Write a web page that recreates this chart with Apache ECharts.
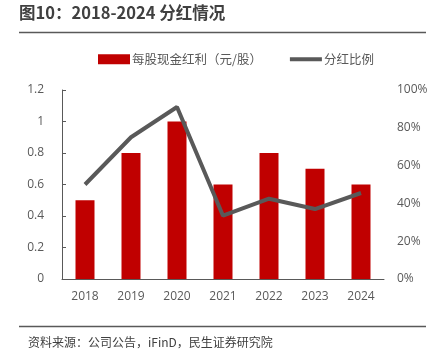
<!DOCTYPE html>
<html><head><meta charset="utf-8">
<script src="https://cdn.jsdelivr.net/npm/echarts@6/dist/echarts.min.js"></script>
<style>html,body{margin:0;padding:0;background:#fff}#c{width:438px;height:361px}</style>
</head><body><div id="c"></div>
<script>
const categories = ['2018','2019','2020','2021','2022','2023','2024'];
const dividendPerShare = [0.5, 0.8, 1.0, 0.6, 0.8, 0.7, 0.6];
const payoutRatio = [50, 75, 91, 33.5, 42.5, 37, 45.5];
const leftTicks = ['0','0.2','0.4','0.6','0.8','1','1.2'];
const rightTicks = ['0%','20%','40%','60%','80%','100%'];
const seriesNames = ['每股现金红利（元/股）','分红比例'];
const titleText = '图10：2018-2024 分红情况';
const sourceText = '资料来源：公司公告，iFinD，民生证券研究院';

const FF = '"Open Sans","Noto Sans CJK SC",sans-serif';
const chart = echarts.init(document.getElementById('c'));
chart.setOption({
  animation:false,
  textStyle:{fontFamily:FF},
  graphic:[
    {type:'text',left:19,top:4,style:{text:titleText,font:'bold 16.5px "Noto Sans CJK SC",sans-serif',fill:'#404040'}},
    {type:'line',shape:{x1:19,y1:32.5,x2:426,y2:32.5},style:{stroke:'#595959',lineWidth:1.5}},
    {type:'line',shape:{x1:19,y1:326.5,x2:426,y2:326.5},style:{stroke:'#595959',lineWidth:1.5}},
    {type:'text',left:28,top:336,style:{text:sourceText,font:'12px "Noto Sans CJK SC",sans-serif',fill:'#404040'}}
  ],
  legend:{
    top:48,left:93,itemGap:28,itemWidth:32,itemHeight:10,
    textStyle:{fontSize:12.5,color:'#595959',fontFamily:'"Noto Sans CJK SC",sans-serif',padding:[0,0,0,-3]},
    data:[{name:seriesNames[0],icon:'rect'},{name:seriesNames[1],icon:'path://M0,0 L40,0 L40,5 L0,5 Z',itemStyle:{color:'#595959'}}]
  },
  grid:{left:62,right:54,top:90,bottom:82},
  xAxis:{type:'category',data:categories,
    axisLine:{lineStyle:{color:'#595959',width:1}},axisTick:{show:false},
    axisLabel:{color:'#595959',fontSize:12,margin:12}},
  yAxis:[
    {type:'value',min:0,max:1.2,interval:0.2,
     axisLine:{show:true,lineStyle:{color:'#595959'}},
     axisTick:{show:true,inside:true,length:4,lineStyle:{color:'#595959'}},
     splitLine:{show:false},
     axisLabel:{color:'#595959',fontSize:12,margin:18,formatter:(v)=>leftTicks[Math.round(v/0.2)]}},
    {type:'value',min:0,max:100,interval:20,
     axisLine:{show:false},axisTick:{show:false},splitLine:{show:false},
     axisLabel:{color:'#595959',fontSize:12,margin:13,formatter:(v)=>rightTicks[Math.round(v/20)]}}
  ],
  series:[
    {name:seriesNames[0],type:'bar',data:dividendPerShare,barWidth:19,itemStyle:{color:'#C00000'}},
    {name:seriesNames[1],type:'line',yAxisIndex:1,data:payoutRatio,symbol:'none',
     lineStyle:{color:'#595959',width:4},itemStyle:{color:'#595959'}}
  ]
});
</script></body></html>
